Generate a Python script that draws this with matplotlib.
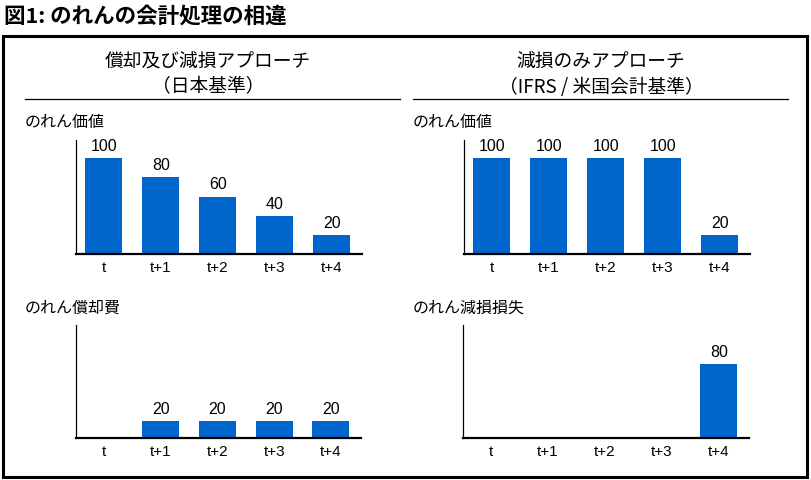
import matplotlib
matplotlib.use("Agg")
import matplotlib.pyplot as plt
from matplotlib.patches import Rectangle
from matplotlib.lines import Line2D

plt.rcParams['font.family'] = ['Noto Sans CJK JP', 'DejaVu Sans']

periods = ["t", "t+1", "t+2", "t+3", "t+4"]
jp_value = [100, 80, 60, 40, 20]
jp_amort = [0, 20, 20, 20, 20]
ifrs_value = [100, 100, 100, 100, 20]
ifrs_impair = [0, 0, 0, 0, 80]

title = "図1: のれんの会計処理の相違"
left_header = ["償却及び減損アプローチ", "（日本基準）"]
right_header = ["減損のみアプローチ", "（IFRS / 米国会計基準）"]
sub_titles = ["のれん価値", "のれん償却費", "のれん価値", "のれん減損損失"]

BAR = "#0066CC"
W, H = 812, 480
fig = plt.figure(figsize=(W / 100, H / 100), dpi=100)

def px_axes(x0, y0, x1, y1):
    return fig.add_axes([x0 / W, 1 - y1 / H, (x1 - x0) / W, (y1 - y0) / H])

def fx(x):
    return x / W

def fy(y):
    return 1 - y / H

fig.text(fx(4), fy(16), title, fontsize=15.5, fontweight='bold', va='center', ha='left')
fig.patches.append(Rectangle((fx(3), fy(477)), fx(804), (477 - 36) / H, transform=fig.transFigure,
                             fill=False, edgecolor='black', linewidth=2.2))

fig.text(fx(208), fy(62), left_header[0], fontsize=13.5, ha='center', va='center')
fig.text(fx(208), fy(87), left_header[1], fontsize=13.5, ha='center', va='center')
fig.text(fx(601), fy(62), right_header[0], fontsize=13.5, ha='center', va='center')
fig.text(fx(601), fy(87), right_header[1], fontsize=13.5, ha='center', va='center')
fig.lines.append(Line2D([fx(25), fx(400)], [fy(99), fy(99)], transform=fig.transFigure, color='black', lw=0.9))
fig.lines.append(Line2D([fx(413), fx(788)], [fy(99), fy(99)], transform=fig.transFigure, color='black', lw=0.9))

fig.text(fx(25), fy(122), sub_titles[0], fontsize=11.5, ha='left', va='center')
fig.text(fx(25), fy(308), sub_titles[1], fontsize=11.5, ha='left', va='center')
fig.text(fx(413), fy(122), sub_titles[2], fontsize=11.5, ha='left', va='center')
fig.text(fx(413), fy(308), sub_titles[3], fontsize=11.5, ha='left', va='center')

def draw(ax, values, ymax):
    x = range(len(periods))
    bars = ax.bar(x, values, width=0.65, color=BAR)
    for b, v in zip(bars, values):
        if v > 0:
            ax.annotate(f"{v}", (b.get_x() + b.get_width() / 2, v), xytext=(0, 3),
                        textcoords='offset points', ha='center', va='bottom', fontsize=11.5,
                        family=['Liberation Sans', 'DejaVu Sans'])
    ax.set_xlim(-0.49, 4.53)
    ax.set_ylim(0, ymax)
    ax.set_xticks(list(x))
    ax.set_xticklabels(periods, fontsize=11, family=['Liberation Sans', 'DejaVu Sans'])
    ax.tick_params(axis='x', length=0, pad=5)
    ax.set_yticks([])
    for s in ['top', 'right']:
        ax.spines[s].set_visible(False)
    ax.spines['left'].set_linewidth(0.9)
    ax.spines['bottom'].set_linewidth(1.6)
    ax.patch.set_alpha(0)

draw(px_axes(76, 140, 362, 254), jp_value, 119)
draw(px_axes(76, 325, 361, 438), jp_amort, 133)
draw(px_axes(464, 140, 750, 254), ifrs_value, 119)
draw(px_axes(463, 325, 749, 438), ifrs_impair, 122)

fig.savefig("out.png", dpi=100)
